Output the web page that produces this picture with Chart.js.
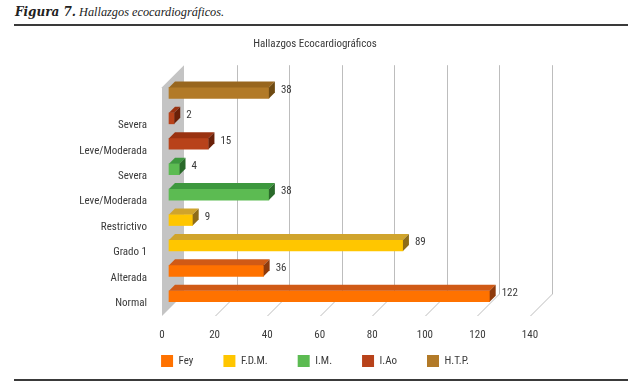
<!DOCTYPE html>
<html><head><meta charset="utf-8">
<script src="https://cdn.jsdelivr.net/npm/chart.js@4.4.0/dist/chart.umd.min.js"></script>
<style>
html,body{margin:0;padding:0;background:#fff;}
#wrap{position:relative;width:642px;height:391px;overflow:hidden;background:#fff;}
#hdr{position:absolute;left:15px;top:5px;font-family:"Liberation Serif","DejaVu Serif",serif;font-size:12.3px;font-style:italic;color:#222;white-space:nowrap;}
#hdr b{font-family:"DejaVu Serif",serif;font-weight:bold;font-size:12px;}
.rule{position:absolute;left:14px;width:614px;height:2px;background:#3a3a3a;}
canvas{position:absolute;left:0;top:0;}
</style></head>
<body><div id="wrap">
<div id="hdr"><b>Figura 7.</b> Hallazgos ecocardiográficos.</div>
<div class="rule" style="top:24px"></div>
<div class="rule" style="top:379px"></div>
<canvas id="c" width="642" height="391"></canvas>
</div>
<script>
const categories = ["", "Severa", "Leve/Moderada", "Severa", "Leve/Moderada", "Restrictivo", "Grado 1", "Alterada", "Normal"];
const seriesNames = ["Fey", "F.D.M.", "I.M.", "I.Ao", "H.T.P."];
const fey  = [null, null, null, null, null, null, null, 36, 122];
const fdm  = [null, null, null, null, null, 9, 89, null, null];
const im   = [null, null, null, 4, 38, null, null, null, null];
const iao  = [null, 2, 15, null, null, null, null, null, null];
const htp  = [38, null, null, null, null, null, null, null, null];
const xTicksMax = 140, xTickStep = 20;

const FONT = '"Liberation Sans Narrow","Arial Narrow","Roboto Condensed","Roboto",sans-serif';
const FS = 11;
const TXT = '#3a3a3a';
const D = 22, OFF = 7, DEP = 6;

function mk(label, data, front, top, side) {
  return {label, data, backgroundColor: front, topColor: top, sideColor: side,
    borderWidth: 0, barThickness: 11, grouped: false, clip: false};
}

const threeD = {
  id: 'threeD',
  beforeDatasetsDraw(chart) {
    const {ctx, chartArea: a, scales: {x}} = chart;
    ctx.save();
    const x0 = x.getPixelForValue(0);
    ctx.fillStyle = '#c4c4c4';
    ctx.beginPath();
    ctx.moveTo(x0, a.bottom); ctx.lineTo(x0, a.top);
    ctx.lineTo(x0 + D, a.top - D); ctx.lineTo(x0 + D, a.bottom - D);
    ctx.closePath(); ctx.fill();
    ctx.strokeStyle = '#bdbdbd'; ctx.lineWidth = 1;
    x.ticks.forEach(t => {
      if (t.value === 0) return;
      const px = Math.round(x.getPixelForValue(t.value)) + 0.5;
      ctx.beginPath();
      ctx.moveTo(px, a.bottom);
      ctx.lineTo(px + D, a.bottom - D);
      ctx.lineTo(px + D, a.top - D);
      ctx.stroke();
    });
    ctx.restore();
  },
  beforeDatasetDraw(chart) { chart.ctx.save(); chart.ctx.translate(OFF, -OFF); },
  afterDatasetDraw(chart, args) {
    const ctx = chart.ctx;
    const ds = chart.data.datasets[args.index];
    args.meta.data.forEach((el, i) => {
      if (ds.data[i] == null) return;
      const p = el.getProps(['x', 'y', 'base', 'height'], true);
      const t = p.y - p.height / 2, b = p.y + p.height / 2;
      ctx.fillStyle = ds.topColor;
      ctx.beginPath();
      ctx.moveTo(p.base, t); ctx.lineTo(p.x, t); ctx.lineTo(p.x + DEP, t - DEP); ctx.lineTo(p.base + DEP, t - DEP);
      ctx.closePath(); ctx.fill();
      ctx.fillStyle = ds.sideColor;
      ctx.beginPath();
      ctx.moveTo(p.x, t); ctx.lineTo(p.x + DEP, t - DEP); ctx.lineTo(p.x + DEP, b - DEP); ctx.lineTo(p.x, b);
      ctx.closePath(); ctx.fill();
    });
    ctx.restore();
  },
  afterDatasetsDraw(chart) {
    const ctx = chart.ctx;
    ctx.save();
    ctx.font = FS + 'px ' + FONT;
    ctx.fillStyle = TXT;
    ctx.textBaseline = 'middle';
    ctx.textAlign = 'left';
    chart.data.datasets.forEach((ds, di) => {
      chart.getDatasetMeta(di).data.forEach((el, i) => {
        if (ds.data[i] == null) return;
        const p = el.getProps(['x', 'y'], true);
        ctx.fillText(String(ds.data[i]), p.x + OFF + DEP + 6, p.y - OFF - 3);
      });
    });
    ctx.restore();
  }
};

new Chart(document.getElementById('c'), {
  type: 'bar',
  data: {
    labels: categories,
    datasets: [
      mk(seriesNames[0], fey, '#ff7200', '#d05a16', '#8e3a0c'),
      mk(seriesNames[1], fdm, '#ffc600', '#d0a42c', '#8e6c18'),
      mk(seriesNames[2], im, '#5cbb52', '#3d983e', '#2a6a2a'),
      mk(seriesNames[3], iao, '#b8421a', '#9a3210', '#6a2008'),
      mk(seriesNames[4], htp, '#b27a28', '#98661e', '#6e4a12')
    ]
  },
  options: {
    indexAxis: 'y',
    responsive: false,
    animation: false,
    layout: {padding: {top: 30, left: 0, right: 12, bottom: 14}},
    plugins: {
      title: {display: true, text: 'Hallazgos Ecocardiográficos',
        font: {family: FONT, size: FS, weight: 'normal'}, color: TXT,
        padding: {top: 8, bottom: 36}},
      legend: {position: 'bottom',
        labels: {boxWidth: 12, boxHeight: 12, padding: 30,
          font: {family: FONT, size: FS}, color: TXT}},
      tooltip: {enabled: false}
    },
    scales: {
      x: {min: 0, max: xTicksMax,
        ticks: {stepSize: xTickStep, mirror: true, padding: -26, font: {family: FONT, size: FS}, color: TXT},
        grid: {display: false, drawTicks: false}, border: {display: false},
        afterFit(s) { s.height = 9; }},
      y: {ticks: {padding: 15, font: {family: FONT, size: FS}, color: TXT, autoSkip: false},
        grid: {display: false, drawTicks: false}, border: {display: false},
        afterFit(s) { s.width = 162; }},
      rightSpace: {type: 'linear', position: 'right', display: true,
        ticks: {display: false}, grid: {display: false, drawTicks: false}, border: {display: false},
        afterFit(s) { s.width = 100; }}
    }
  },
  plugins: [threeD]
});
</script>
</body></html>
